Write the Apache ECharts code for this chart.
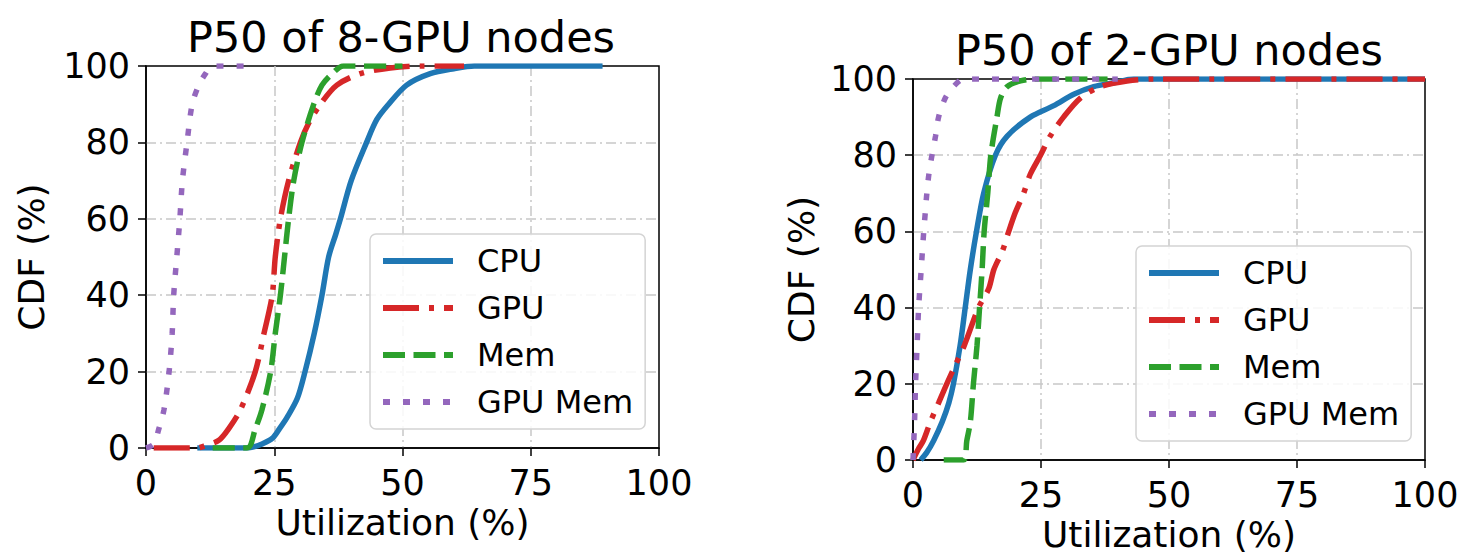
<!DOCTYPE html>
<html><head><meta charset="utf-8">
<script src="https://cdn.jsdelivr.net/npm/echarts@6/dist/echarts.min.js"></script>
<style>html,body{margin:0;padding:0;background:#fff}#c{width:1464px;height:560px}</style>
</head><body><div id="c"></div>
<script>
// ---- data ----
const seriesNames = ['CPU', 'GPU', 'Mem', 'GPU Mem'];
const titles = ['P50 of 8-GPU nodes', 'P50 of 2-GPU nodes'];
const xTickLabels = ['0', '25', '50', '75', '100'];
const yTickLabels = ['0', '20', '40', '60', '80', '100'];

// 8-GPU nodes
const cpu8X = [10, 19.5, 21, 22.5, 24.6, 26, 27.5, 29.5, 31, 32.8, 34.3, 35.6, 37, 37.9, 40, 43, 45, 47.3, 50.8, 55.4, 60, 64, 75, 89];
const cpu8Y = [0, 0, 0.3, 1, 2.5, 5, 8, 13, 20, 30, 40, 50, 56, 60, 70, 80, 86, 90, 95, 98, 99.3, 100, 100, 100];
const gpu8X = [1.5, 10, 11.3, 14.2, 16.1, 18.4, 21.3, 23, 24.6, 25.2, 26.2, 27.8, 30.1, 31.7, 34, 37.2, 41.8, 47.6, 54, 62];
const gpu8Y = [0, 0, 0.5, 2, 5, 10, 20, 30, 40, 50, 60, 70, 80, 85, 90, 95, 98, 99.5, 100, 100];
const mem8X = [13, 19.7, 21.3, 22.6, 24.3, 25.2, 26.2, 27, 27.8, 28.8, 30.4, 32.7, 34.3, 36.3, 38.5, 50];
const mem8Y = [0, 0, 5, 10, 20, 30, 40, 50, 60, 70, 80, 90, 95, 98, 100, 100];
const gmem8X = [0, 1.5, 2.5, 3.5, 4.5, 5.1, 5.4, 6, 6.6, 7.1, 8, 9, 10.3, 11.6, 12.9, 20];
const gmem8Y = [0, 1, 5, 10, 20, 30, 40, 50, 60, 70, 80, 90, 95, 98, 100, 100];

// 2-GPU nodes
const cpu2X = [1.5, 2.7, 4, 5.7, 7, 7.9, 9.2, 10.2, 11.2, 12.4, 13.8, 16.1, 18.4, 22.9, 27.5, 31.4, 35.3, 39.2, 43.1, 100];
const cpu2Y = [0, 2, 5, 10, 15, 20, 30, 40, 50, 60, 70, 80, 85, 90, 93, 96, 98, 99, 100, 100];
const gpu2X = [0, 1.1, 2, 3.4, 5, 6.6, 8.3, 10, 12.8, 14.8, 15.8, 17.5, 18.7, 20, 21.6, 22.9, 24.9, 26.8, 29.4, 32.7, 36.6, 41.8, 47, 100];
const gpu2Y = [0, 3, 5, 10, 15, 20, 25, 30, 40, 45, 50, 55, 60, 65, 70, 75, 80, 85, 90, 95, 98, 99.5, 100, 100];
const mem2X = [6, 9.9, 10.5, 11.2, 11.8, 12.5, 13, 13.5, 13.9, 14.6, 15.2, 16.4, 17.1, 18.4, 21, 23.6, 38];
const mem2Y = [0, 0, 5, 10, 20, 30, 40, 50, 60, 70, 80, 90, 95, 98, 99.5, 100, 100];
const gmem2X = [0, 0.3, 0.5, 0.8, 1.1, 1.6, 2.1, 2.4, 2.7, 3.1, 3.7, 4.4, 5, 6.3, 7.9, 9.9, 40];
const gmem2Y = [0, 10, 20, 30, 40, 50, 60, 65, 70, 75, 80, 85, 90, 95, 98, 100, 100];

// ---- build ----
const F = 'DejaVu Sans';
const zip = (xs, ys) => xs.map((x, i) => [x, ys[i]]);
const styles = [
  { color: '#1f77b4', type: 'solid' },
  { color: '#d62728', type: [36, 10, 5, 10] },
  { color: '#2ca02c', type: [22, 8.5] },
  { color: '#9467bd', type: [7, 13] }
];
const panels = [
  [zip(cpu8X, cpu8Y), zip(gpu8X, gpu8Y), zip(mem8X, mem8Y), zip(gmem8X, gmem8Y)],
  [zip(cpu2X, cpu2Y), zip(gpu2X, gpu2Y), zip(mem2X, mem2Y), zip(gmem2X, gmem2Y)]
];

function makeX(g) {
  return {
    type: 'value', gridIndex: g, min: 0, max: 100, interval: 25,
    name: 'Utilization (%)', nameLocation: 'middle', nameGap: 56,
    nameTextStyle: { fontSize: 36, color: '#000', fontFamily: F },
    axisLine: { show: true, onZero: false, lineStyle: { color: '#000', width: 1.5 } },
    axisTick: { show: true, length: 8, lineStyle: { color: '#000', width: 1.5 } },
    axisLabel: { fontSize: 35, color: '#000', margin: 17, fontFamily: F,
      formatter: v => xTickLabels[Math.round(v / 25)] },
    splitLine: { show: true, showMinLine: false, showMaxLine: false,
      lineStyle: { color: '#c8c8c8', width: 1.5, type: [10, 4, 2, 4] } }
  };
}
function makeY(g, gap) {
  return {
    type: 'value', gridIndex: g, min: 0, max: 100, interval: 20,
    name: 'CDF (%)', nameLocation: 'middle', nameGap: gap,
    nameTextStyle: { fontSize: 36, color: '#000', fontFamily: F },
    axisLine: { show: true, onZero: false, lineStyle: { color: '#000', width: 1.5 } },
    axisTick: { show: true, length: 8, lineStyle: { color: '#000', width: 1.5 } },
    axisLabel: { fontSize: 35, color: '#000', margin: 16, fontFamily: F,
      formatter: v => yTickLabels[Math.round(v / 20)] },
    splitLine: { show: true, showMinLine: false, showMaxLine: false,
      lineStyle: { color: '#c8c8c8', width: 1.5, type: [10, 4, 2, 4] } }
  };
}
function makeLegend(left, top) {
  return {
    orient: 'vertical', left: left, top: top, data: seriesNames,
    padding: [9, 12, 9, 10], itemGap: 11, itemWidth: 70, itemHeight: 20,
    lineStyle: { width: 6 },
    itemStyle: { opacity: 0 },
    textStyle: { fontSize: 32, lineHeight: 36, color: '#000', fontFamily: F, padding: [0, 0, 0, 19] },
    borderColor: '#d4d4d4', borderWidth: 1.5, borderRadius: 6,
    backgroundColor: 'rgba(255,255,255,0.85)'
  };
}

const series = [];
panels.forEach((p, g) => {
  p.forEach((d, i) => {
    series.push({
      type: 'line', name: seriesNames[i], xAxisIndex: g, yAxisIndex: g,
      data: d, symbol: 'none', smooth: 0.3, animation: false,
      lineStyle: { color: styles[i].color, width: 5.5, type: styles[i].type, cap: 'butt' },
      itemStyle: { color: styles[i].color }
    });
  });
});

const chart = echarts.init(document.getElementById('c'), null, { renderer: 'svg' });
chart.setOption({
  animation: false,
  backgroundColor: '#fff',
  title: [
    { text: titles[0], left: 401, top: 15, textAlign: 'center', padding: 0,
      textStyle: { fontSize: 43, fontWeight: 'normal', color: '#000', fontFamily: F } },
    { text: titles[1], left: 1169, top: 28, textAlign: 'center', padding: 0,
      textStyle: { fontSize: 43, fontWeight: 'normal', color: '#000', fontFamily: F } }
  ],
  grid: [
    { left: 146, top: 66, width: 513, height: 382, show: true, borderColor: '#000', borderWidth: 1.5, backgroundColor: 'transparent' },
    { left: 913, top: 79, width: 512, height: 381, show: true, borderColor: '#000', borderWidth: 1.5, backgroundColor: 'transparent' }
  ],
  xAxis: [makeX(0), makeX(1)],
  yAxis: [makeY(0, 97), makeY(1, 94)],
  legend: [makeLegend(370, 234), makeLegend(1136, 246)],
  series: series
});
</script></body></html>
